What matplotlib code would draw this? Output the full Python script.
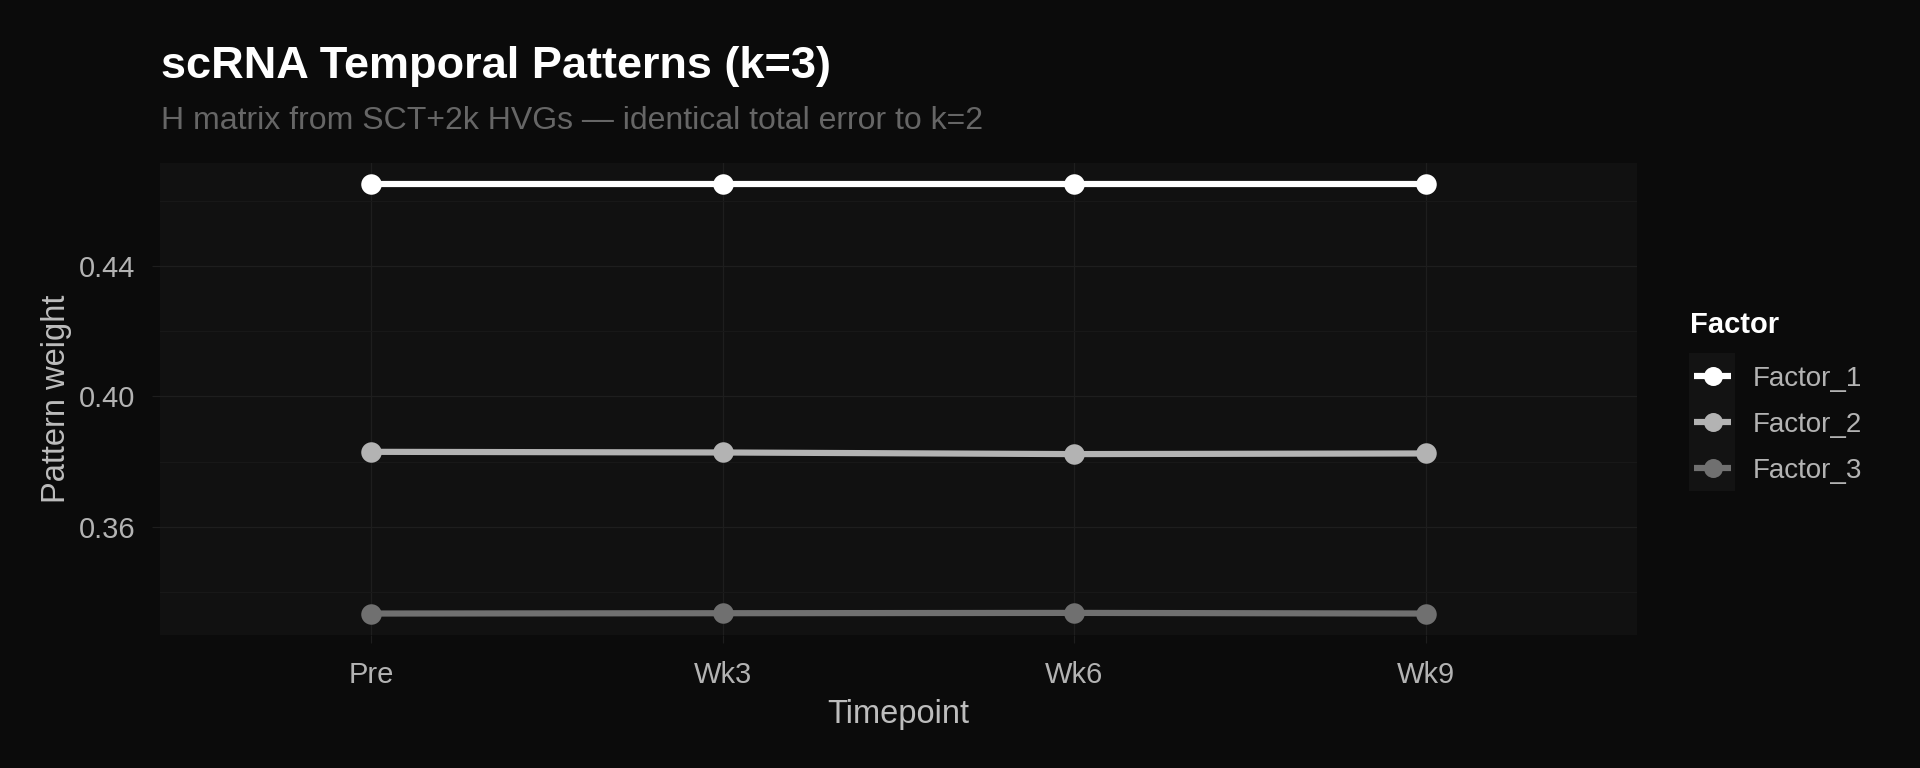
import matplotlib
matplotlib.use('Agg')
import matplotlib.pyplot as plt
from matplotlib.lines import Line2D
from matplotlib.patches import Rectangle

# ---------------- data ----------------
timepoints = ['Pre', 'Wk3', 'Wk6', 'Wk9']
factors = ['Factor_1', 'Factor_2', 'Factor_3']
factor_1 = [0.4650, 0.4650, 0.4650, 0.4650]
factor_2 = [0.3830, 0.3828, 0.3823, 0.3825]
factor_3 = [0.3334, 0.3335, 0.3336, 0.3334]
series = [factor_1, factor_2, factor_3]
y_major = [0.36, 0.40, 0.44]
y_minor = [0.34, 0.38, 0.42, 0.46]

title = 'scRNA Temporal Patterns (k=3)'
subtitle = 'H matrix from SCT+2k HVGs \u2014 identical total error to k=2'
xlabel = 'Timepoint'
ylabel = 'Pattern weight'
legend_title = 'Factor'

# ---------------- style ----------------
colors = ['#FFFFFF', '#B3B3B3', '#707070']
BG = '#0B0B0B'
PANEL = '#111111'
GRID_MAJ = '#1E1E1E'
GRID_MIN = '#181818'
TICK_TXT = '#B3B3B3'
AX_TXT = '#BDBDBD'
SUB_TXT = '#666666'
FONT = ['Liberation Sans', 'DejaVu Sans']

plt.rcParams['font.family'] = FONT

W, H, DPI = 1920, 768, 100
fig = plt.figure(figsize=(W / DPI, H / DPI), dpi=DPI, facecolor=BG)


def fx(px):
    return px / W


def fy(py):
    return 1 - py / H


PX = 72.0 / DPI  # points per pixel
LW = 6.2 * PX

L, R, T, B = 160, 1637, 163, 635
ax = fig.add_axes([fx(L), fy(B), fx(R) - fx(L), fy(T) - fy(B)])
ax.set_facecolor(PANEL)
for s in ax.spines.values():
    s.set_visible(False)

x = list(range(len(timepoints)))
# lines first, then points (ggplot layer order)
for vals, c in zip(series, colors):
    ax.plot(x, vals, color=c, lw=LW, solid_capstyle='butt', zorder=3)
for vals, c in zip(series, colors):
    ax.plot(x, vals, 'o', color=c, ms=20.5 * PX, mew=0, zorder=4)

# scales (ggplot style expansion)
ax.set_xlim(-0.6, len(timepoints) - 1 + 0.6)
all_vals = [v for s in series for v in s]
lo, hi = min(all_vals), max(all_vals)
pad = 0.05 * (hi - lo)
ax.set_ylim(lo - pad, hi + pad)

ax.set_xticks(x)
ax.set_xticklabels(timepoints)
ax.set_yticks(y_major)
ax.set_yticklabels([f'{v:.2f}' for v in y_major])
ax.set_yticks(y_minor, minor=True)

ax.tick_params(axis='both', which='major', length=8 * PX, width=1.2 * PX,
               color=GRID_MAJ, labelcolor=TICK_TXT, labelsize=21)
ax.tick_params(axis='x', which='major', pad=18 * PX)
ax.tick_params(axis='y', which='major', pad=17 * PX)
ax.tick_params(axis='y', which='minor', length=0)

ax.grid(True, which='major', color=GRID_MAJ, lw=1.3 * PX, zorder=0)
ax.grid(True, which='minor', axis='y', color=GRID_MIN, lw=1.0 * PX, zorder=0)
ax.set_axisbelow(True)

# ---------------- titles ----------------
fig.text(fx(161), fy(78), title, color='#FFFFFF', fontsize=32.5,
         fontweight='bold', ha='left', va='baseline')
fig.text(fx(161), fy(129), subtitle, color=SUB_TXT, fontsize=23,
         ha='left', va='baseline')
fig.text(fx((L + R) / 2), fy(722.5), xlabel, color=AX_TXT, fontsize=23.5,
         ha='center', va='baseline')
fig.text(fx(57), fy((T + B) / 2), ylabel, color=AX_TXT, fontsize=23.5,
         rotation=90, ha='center', va='center')

# ---------------- legend ----------------
fig.text(fx(1690), fy(333.3), legend_title, color='#FFFFFF', fontsize=21,
         fontweight='bold', ha='left', va='baseline')
key_left, key_top, key_size = 1689, 353, 46
fig.add_artist(Rectangle((fx(key_left), fy(key_top + key_size * len(factors))),
                         fx(46), key_size * len(factors) / H,
                         transform=fig.transFigure, facecolor='#131313',
                         edgecolor='none', zorder=1))
label_em = 27.8  # px
for i, (name, c) in enumerate(zip(factors, colors)):
    cy = key_top + key_size * (i + 0.5)
    fig.add_artist(Line2D([fx(1694), fx(1731)], [fy(cy), fy(cy)],
                          transform=fig.transFigure, color=c, lw=LW,
                          solid_capstyle='butt', zorder=2))
    fig.add_artist(Line2D([fx(1712.5)], [fy(cy)], transform=fig.transFigure,
                          marker='o', color=c, ms=19 * PX, mew=0, zorder=3))
    fig.text(fx(1753), fy(cy + 0.716 * label_em / 2), name, color=TICK_TXT,
             fontsize=label_em * PX, ha='left', va='baseline')

fig.savefig('out.png', dpi=DPI, facecolor=BG)
